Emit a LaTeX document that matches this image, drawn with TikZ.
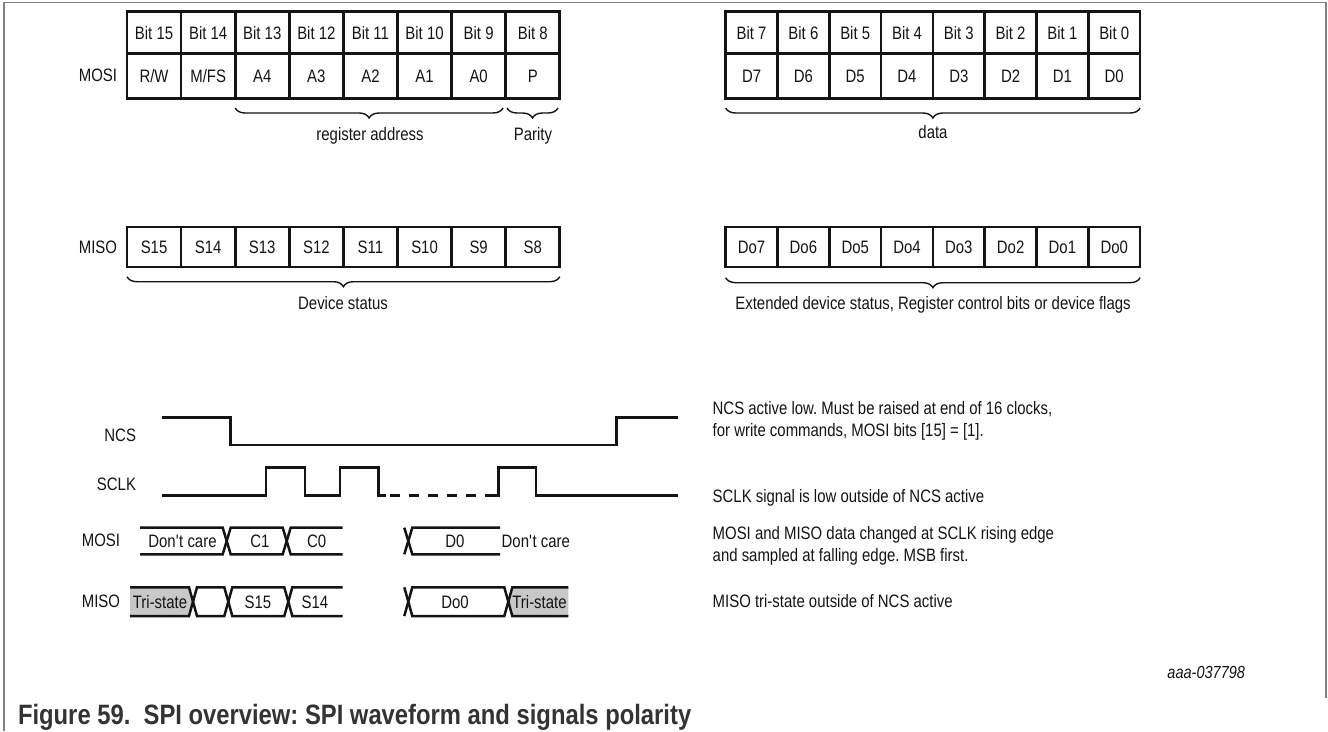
\documentclass[tikz,border=0pt]{standalone}
\usepackage{fontspec}
\setmainfont{Liberation Sans}[FakeStretch=0.83]
\newfontfamily\capfont{Liberation Sans}[FakeStretch=0.85]
\usetikzlibrary{decorations.pathreplacing}
\definecolor{ink}{HTML}{141414}
\definecolor{framegray}{HTML}{808080}
\definecolor{trifill}{HTML}{C8C8C8}
\frenchspacing
\begin{document}
\begin{tikzpicture}[x=1pt,y=-1pt,
  font=\fontsize{18}{21.7}\selectfont\frenchspacing,
  every node/.style={inner sep=0pt, outer sep=0pt, text=ink},
  capc/.style={text height=13pt, text depth=0pt},
  cellL/.style={draw=ink, line width=2.7pt, minimum width=54.1pt, capc},
  cellR/.style={draw=ink, line width=2.7pt, minimum width=51.8pt, capc},
  hrow/.style={minimum height=41.6pt},
  drow/.style={minimum height=45pt},
  srow/.style={minimum height=40pt},
  brc/.style={draw=ink, line width=1.4pt, decorate, decoration={brace, mirror, amplitude=10pt}},
  wave/.style={draw=ink, line width=2.5pt},
  lbl/.style={anchor=base east},
  note/.style={anchor=base west}
]
\useasboundingbox (0,0) rectangle (1328,731);
% frame
\draw[framegray, line width=1.3pt] (4,731) -- (4,2.7) -- (1326,2.7) -- (1326,698);

% ---------- MOSI frame, upper byte ----------
\foreach \t [count=\i] in {Bit 15,Bit 14,Bit 13,Bit 12,Bit 11,Bit 10,Bit 9,Bit 8}
  \node[cellL,hrow] (mh\i) at ({127+54.1*(\i-0.5)},32.5) {\t};
\foreach \t [count=\i] in {R/W,M/FS,A4,A3,A2,A1,A0,P}
  \node[cellL,drow] (md\i) at ({127+54.1*(\i-0.5)},75.8) {\t};
% lower byte
\foreach \t [count=\i] in {Bit 7,Bit 6,Bit 5,Bit 4,Bit 3,Bit 2,Bit 1,Bit 0}
  \node[cellR,hrow] (rh\i) at ({725.7+51.8*(\i-0.5)},32.5) {\t};
\foreach \t [count=\i] in {D7,D6,D5,D4,D3,D2,D1,D0}
  \node[cellR,drow] (rd\i) at ({725.7+51.8*(\i-0.5)},75.8) {\t};
\node[lbl] (lmosi) at (117,81.5) {MOSI};

\draw[brc] ([xshift=0pt,yshift=-9.7pt]md3.south west) -- ([xshift=-2.7pt,yshift=-9.7pt]md7.south east);
\draw[brc] ([xshift=1.3pt,yshift=-9.7pt]md8.south west) -- ([xshift=-1.8pt,yshift=-9.7pt]md8.south east);
\draw[brc] ([yshift=-9.7pt]rd1.south west) -- ([yshift=-9.7pt]rd8.south east);
\node[anchor=base] (regaddr) at (370,140) {register address};
\node[anchor=base] (parity) at (533,140) {Parity};
\node[anchor=base] (datal) at (933,138) {data};

% ---------- MISO frame ----------
\foreach \t [count=\i] in {S15,S14,S13,S12,S11,S10,S9,S8}
  \node[cellL,srow] (ms\i) at ({127+54.1*(\i-0.5)},247) {\t};
\foreach \t [count=\i] in {Do7,Do6,Do5,Do4,Do3,Do2,Do1,Do0}
  \node[cellR,srow] (mo\i) at ({725.7+51.8*(\i-0.5)},247) {\t};
\node[lbl] (lmiso) at (117,253.5) {MISO};
\draw[brc] ([yshift=-9.7pt]ms1.south west) -- ([yshift=-9.7pt]ms8.south east);
\draw[brc] ([yshift=-10.7pt]mo1.south west) -- ([yshift=-10.7pt]mo8.south east);
\node[anchor=base] (devstat) at (343,309) {Device status};
\node[anchor=base] (extstat) at (933,309) {Extended device status, Register control bits or device flags};

% ---------- waveforms ----------
\node[lbl] (lncs) at (136,441.5) {NCS};
\node[lbl] (lsclk) at (136,490.5) {SCLK};
\node[lbl] (lmosiw) at (120,546.5) {MOSI};
\node[lbl] (lmisow) at (120,607.5) {MISO};

% NCS
\draw[wave] (161.7,417.3) -- (230.7,417.3) -- (230.7,445) -- (616.7,445) -- (616.7,417.3) -- (678.3,417.3);
% SCLK
\draw[wave] (161.7,495.7) -- (266,495.7) -- (266,467.7) -- (305,467.7) -- (305,495.7) -- (340,495.7) -- (340,467.7) -- (378.3,467.7) -- (378.3,495.7) -- (386,495.7);
\draw[wave, dash pattern=on 9.5pt off 9.5pt] (390,495.7) -- (490,495.7);
\draw[wave] (490,495.7) -- (498.3,495.7) -- (498.3,467.7) -- (536,467.7) -- (536,495.7) -- (678.3,495.7);

% MOSI bus
\draw[wave] (140,527.7) -- (222.7,527.7) -- (230.7,554.3) -- (282.7,554.3) -- (290.7,527.7) -- (342.7,527.7);
\draw[wave] (140,554.3) -- (222.7,554.3) -- (230.7,527.7) -- (282.7,527.7) -- (290.7,554.3) -- (342.7,554.3);
\draw[wave] (404.3,527.7) -- (412.3,554.3) -- (500,554.3);
\draw[wave] (404.3,554.3) -- (412.3,527.7) -- (500,527.7);
\node[capc] (mdc1) at (182.5,541) {Don\textquotesingle t care};
\node[capc] (mc1) at (260,541) {C1};
\node[capc] (mc0) at (316.7,541) {C0};
\node[capc] (md0) at (455,541) {D0};
\node[capc] (mdc2) at (535.8,541) {Don\textquotesingle t care};

% MISO bus
\fill[trifill] (130,587.3) -- (189,587.3) -- (193,601.65) -- (189,616) -- (130,616) -- cycle;
\fill[trifill] (508.3,601.65) -- (512.3,587.3) -- (568.3,587.3) -- (568.3,616) -- (512.3,616) -- cycle;
\draw[wave] (130,587.3) -- (189,587.3) -- (197,616) -- (224.3,616) -- (232.3,587.3) -- (284.3,587.3) -- (292.3,616) -- (342.7,616);
\draw[wave] (130,616) -- (189,616) -- (197,587.3) -- (224.3,587.3) -- (232.3,616) -- (284.3,616) -- (292.3,587.3) -- (342.7,587.3);
\draw[wave] (404.3,587.3) -- (412.3,616) -- (504.3,616) -- (512.3,587.3) -- (568.3,587.3);
\draw[wave] (404.3,616) -- (412.3,587.3) -- (504.3,587.3) -- (512.3,616) -- (568.3,616);
\node[capc] (mts1) at (160,601.65) {Tri-state};
\node[capc] (ms15) at (258,601.65) {S15};
\node[capc] (ms14) at (315,601.65) {S14};
\node[capc] (mdo0) at (455,601.65) {Do0};
\node[capc] (mts2) at (539.5,601.65) {Tri-state};

% notes
\node[note, align=left] (n1) at (712.7,436) {NCS active low. Must be raised at end of 16 clocks,\\for write commands, MOSI bits [15] = [1].};
\node[note] (n2) at (712.7,502.7) {SCLK signal is low outside of NCS active};
\node[note, align=left] (n3) at (712.7,561) {MOSI and MISO data changed at SCLK rising edge\\and sampled at falling edge. MSB first.};
\node[note] (n4) at (712.7,607.7) {MISO tri-state outside of NCS active};

\node[anchor=base east, font=\fontsize{17.5}{20}\selectfont\itshape] (fid) at (1245,678) {aaa-037798};
\node[anchor=base west, font=\capfont\fontsize{28}{32}\selectfont\bfseries\frenchspacing, text=black!80] (cap) at (18,724.3) {Figure 59.\ \ SPI overview: SPI waveform and signals polarity};
\end{tikzpicture}
\end{document}
